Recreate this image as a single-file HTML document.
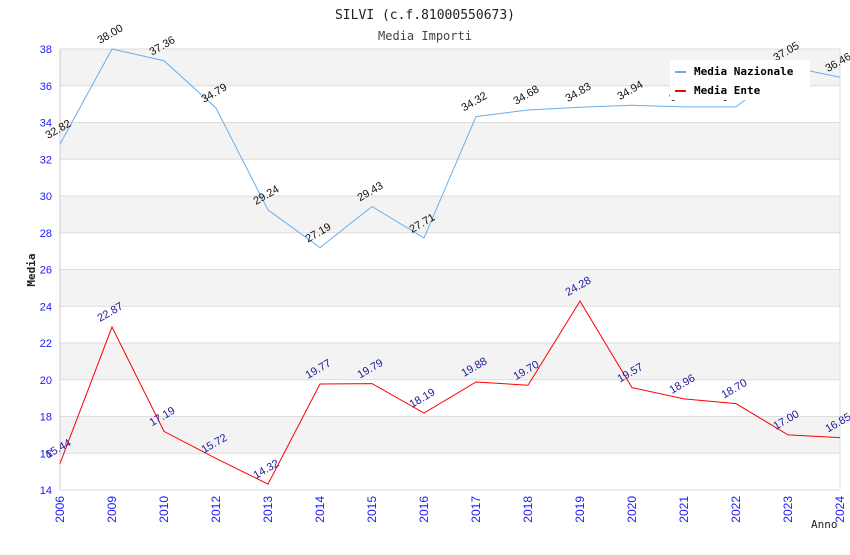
<!DOCTYPE html>
<html><head><meta charset="utf-8"><style>
body{margin:0;background:#fff;width:850px;height:550px;overflow:hidden}
svg{font-family:"DejaVu Sans Mono","Liberation Mono",monospace}
</style></head><body>
<svg id="chart" width="850" height="550" xmlns="http://www.w3.org/2000/svg">
<text x="425" y="19" text-anchor="middle" font-size="13" fill="#222">SILVI (c.f.81000550673)</text>
<text x="425" y="40" text-anchor="middle" font-size="12" fill="#444">Media Importi</text>
<g id="bands"></g><g id="grid"></g><g id="axes"></g><g id="series"></g>
<text transform="translate(35,270) rotate(-90)" text-anchor="middle" font-size="11" font-weight="bold" fill="#222">Media</text>
<text x="811" y="528" font-size="11" fill="#222">Anno</text>
<g>
<rect x="670" y="60" width="140" height="40" fill="#fff"/>
<rect x="675" y="71" width="11" height="2" fill="#6aaef0"/>
<text x="694" y="75" font-size="11" font-weight="bold" fill="#000">Media Nazionale</text>
<rect x="675" y="90" width="11" height="2" fill="#f00"/>
<text x="694" y="94" font-size="11" font-weight="bold" fill="#000">Media Ente</text>
</g>
</svg>
<script>
const categories=["2006","2009","2010","2012","2013","2014","2015","2016","2017","2018","2019","2020","2021","2022","2023","2024"];
const nazionale=[32.82,38.00,37.36,34.79,29.24,27.19,29.43,27.71,34.32,34.68,34.83,34.94,34.85,34.85,37.05,36.46];
const ente=[15.44,22.87,17.19,15.72,14.32,19.77,19.79,18.19,19.88,19.70,24.28,19.57,18.96,18.70,17.00,16.85];
const yTicks=[14,16,18,20,22,24,26,28,30,32,34,36,38];
const NS="http://www.w3.org/2000/svg";
const L=60,R=840,T=49,B=490,yMin=14,yMax=38;
const x=i=>L+i*(R-L)/(categories.length-1);
const y=v=>B-(v-yMin)/(yMax-yMin)*(B-T);
function mk(tag,attrs,parent){const e=document.createElementNS(NS,tag);for(const k in attrs)e.setAttribute(k,attrs[k]);document.getElementById(parent).appendChild(e);return e;}
for(let i=0;i<yTicks.length-1;i++){
  const v=yTicks[i];
  if(i%2===1){const r=mk('rect',{x:L,y:y(v+2),width:R-L,height:y(v)-y(v+2),fill:'#f3f3f3'},'bands');
  
  }
}
yTicks.forEach(v=>{
  const g=mk('line',{x1:L,x2:R,y1:y(v),y2:y(v),stroke:'#ddd','stroke-width':1},'grid');
  
  
  const t=mk('text',{x:L-8,y:y(v)+4,'text-anchor':'end','font-size':11,fill:'#1a1aff','font-family':'Liberation Sans, sans-serif'},'axes');
  
  
  t.textContent=v;
});
mk('line',{x1:L,x2:L,y1:T,y2:B,stroke:'#ccc'},'axes');
mk('line',{x1:R,x2:R,y1:T,y2:B,stroke:'#ddd'},'axes');
categories.forEach((c,i)=>{
  const t=mk('text',{transform:`translate(${x(i)+4},${B+6}) rotate(-90)`,'text-anchor':'end','font-size':12,fill:'#1a1aff','font-family':'Liberation Sans, sans-serif'},'axes');
  
  
  t.textContent=c;
});
function series(data,color,labColor,name){
  const p=mk('polyline',{points:data.map((v,i)=>x(i)+','+y(v)).join(' '),fill:'none',stroke:color,'stroke-width':1},'series');
  
  
  data.forEach((v,i)=>{
    const t=mk('text',{transform:`translate(${x(i)-12},${y(v)-5}) rotate(-30)`,'font-size':11,fill:labColor,'font-family':'Liberation Sans, sans-serif'},'series');
    
    
    t.textContent=v.toFixed(2);
  });
}
series(nazionale,'#6aaef0','#111','nazionale');
series(ente,'#f00','#1a1a99','ente');
</script>
</body></html>
